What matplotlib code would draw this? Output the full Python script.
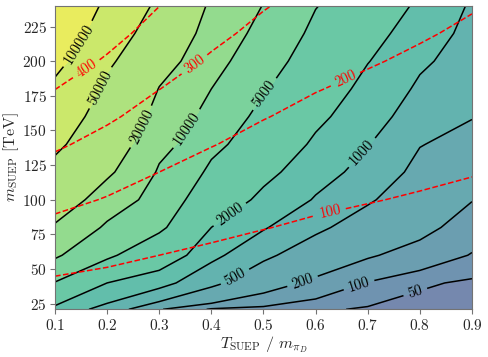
import numpy as np
import matplotlib
matplotlib.use("Agg")
import matplotlib.pyplot as plt

plt.rcParams.update({
    "font.family": ["cmr10", "DejaVu Serif"],
    "mathtext.fontset": "cm",
    "axes.formatter.use_mathtext": True,
    "font.size": 11,
    "axes.edgecolor": "0.45",
    "xtick.color": "0.45",
    "ytick.color": "0.45",
    "xtick.labelcolor": "0.15",
    "ytick.labelcolor": "0.15",
})

# ── data ──────────────────────────────────────────────────────────────────────
t_suep = [0.1, 0.2, 0.3, 0.4, 0.5, 0.6, 0.7, 0.8, 0.9]
m_suep = [21, 40, 60, 80, 100, 120, 140, 160, 180, 200, 220, 240]

# log10 of the event count, rows = m_suep, cols = t_suep
log_counts = [
    [3.19, 2.85, 2.32, 1.95, 1.90, 1.76, 1.65, 1.50, 1.45],
    [3.68, 3.30, 3.08, 2.76, 2.44, 2.22, 1.98, 1.76, 1.62],
    [4.03, 3.74, 3.47, 3.06, 2.75, 2.51, 2.33, 2.18, 1.98],
    [4.27, 3.94, 3.74, 3.30, 3.02, 2.75, 2.54, 2.38, 2.15],
    [4.44, 4.16, 3.85, 3.47, 3.23, 2.97, 2.73, 2.49, 2.31],
    [4.61, 4.34, 3.96, 3.63, 3.37, 3.12, 2.87, 2.60, 2.45],
    [4.75, 4.44, 4.08, 3.77, 3.49, 3.25, 3.01, 2.71, 2.59],
    [4.85, 4.54, 4.19, 3.88, 3.60, 3.36, 3.11, 2.83, 2.71],
    [4.95, 4.64, 4.29, 4.00, 3.72, 3.45, 3.21, 2.94, 2.77],
    [5.06, 4.74, 4.41, 4.08, 3.81, 3.53, 3.31, 3.05, 2.83],
    [5.16, 4.84, 4.52, 4.16, 3.90, 3.62, 3.39, 3.15, 2.89],
    [5.24, 4.94, 4.63, 4.24, 3.99, 3.71, 3.47, 3.25, 2.95],
]

# dark pion multiplicity (red dashed contours)
multiplicity = [
    [47, 41, 35, 30, 27, 24, 22, 20, 18],
    [89, 78, 67, 58, 51, 45, 41, 38, 34],
    [134, 117, 100, 87, 76, 68, 62, 56, 51],
    [178, 156, 134, 116, 102, 90, 82, 75, 68],
    [223, 195, 167, 145, 127, 113, 103, 94, 86],
    [268, 234, 200, 174, 152, 136, 124, 113, 103],
    [312, 273, 234, 203, 178, 158, 144, 132, 120],
    [357, 312, 267, 232, 203, 181, 165, 150, 137],
    [401, 351, 301, 261, 229, 203, 185, 169, 154],
    [446, 390, 334, 290, 254, 226, 206, 188, 171],
    [491, 429, 367, 319, 279, 249, 227, 207, 188],
    [535, 468, 401, 348, 305, 271, 247, 226, 205],
]

count_levels = [50, 100, 200, 500, 1000, 2000, 5000, 10000, 20000, 50000, 100000]
mult_levels = [100, 200, 300, 400]

count_label_pos = [(0.142, 213), (0.186, 181), (0.259, 154), (0.35, 152),
                   (0.50, 177), (0.436, 89), (0.689, 134), (0.446, 44),
                   (0.576, 40), (0.682, 40), (0.79, 35)]
mult_label_pos = [(0.161, 194), (0.365, 199), (0.657, 187), (0.628, 91)]

# ── plot ─────────────────────────────────────────────────────────────────────
T, M = np.meshgrid(t_suep, m_suep)
Z = 10 ** np.array(log_counts)
R = np.array(multiplicity, dtype=float)

fill_levels = [1] + count_levels + [1e7]
pos = np.linspace(0.26, 0.95, len(fill_levels) - 1)
base = plt.get_cmap("viridis")(pos)
band_colors = 0.7 * base[:, :3] + 0.3   # viridis at alpha 0.7 on white

fig = plt.figure(figsize=(4.88, 3.57), dpi=100)
ax = fig.add_axes([0.1127, 0.1336, 0.8545, 0.8504])

ax.contourf(T, M, Z, levels=fill_levels, colors=band_colors)
cs = ax.contour(T, M, Z, levels=count_levels, colors="black", linewidths=1.1)
ax.clabel(cs, fmt="%d", fontsize=10.5, inline=True, manual=count_label_pos)

rs = ax.contour(T, M, R, levels=mult_levels, colors="red",
                linewidths=1.1, linestyles="--")
ax.clabel(rs, fmt="%d", fontsize=10.5, inline=True, manual=mult_label_pos)

ax.set_xticks([0.1, 0.2, 0.3, 0.4, 0.5, 0.6, 0.7, 0.8, 0.9])
ax.set_yticks([25, 50, 75, 100, 125, 150, 175, 200, 225])
ax.tick_params(labelsize=11, pad=2.5)
ax.set_xlabel(r"$T_\mathrm{SUEP}$ / $m_{\pi_D}$", fontsize=11.5,
              color="0.15", labelpad=1)
ax.set_ylabel(r"$m_\mathrm{SUEP}$ [TeV]", fontsize=11.5,
              color="0.15", labelpad=1)

fig.savefig("out.png", dpi=100)
